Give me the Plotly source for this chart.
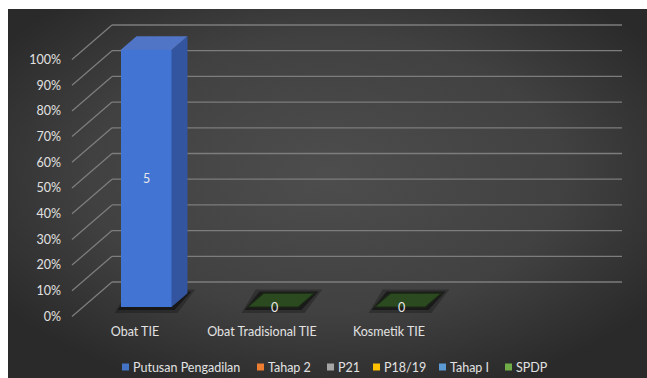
import base64
import plotly.graph_objects as go

# ---------------- data ----------------
categories = ["Obat TIE", "Obat Tradisional TIE", "Kosmetik TIE"]
series_names = ["Putusan Pengadilan", "Tahap 2", "P21", "P18/19", "Tahap I", "SPDP"]
putusan_pengadilan = [5, 0, 0]
tahap_2 = [0, 0, 0]
p21 = [0, 0, 0]
p18_19 = [0, 0, 0]
tahap_1 = [0, 0, 0]
spdp = [0, 0, 0]
series_values = [putusan_pengadilan, tahap_2, p21, p18_19, tahap_1, spdp]
y_ticks = [0, 10, 20, 30, 40, 50, 60, 70, 80, 90, 100]
y_tick_labels = ["0%", "10%", "20%", "30%", "40%", "50%", "60%", "70%", "80%", "90%", "100%"]

# ---------------- style ----------------
W, H = 647, 378
FONT = "Lato"
TXT = "#e2e2e2"
FS = 12.5
colors = ["#4274d4", "#ED7D31", "#A5A5A5", "#FFC000", "#5B9BD5", "#70AD47"]
top_colors = ["#5074c6", "#d8864a", "#b5b5b5", "#e8b830", "#72a4d6", "#2b4a1f"]
side_colors = ["#33559f", "#b5601f", "#858585", "#c49400", "#3f7ab0", "#24401a"]
legend_colors = ["#4472C4", "#ED7D31", "#A5A5A5", "#FFC000", "#5B9BD5", "#70AD47"]
legend_px = [122, 257, 327, 373, 439, 505]

PX_CAT = 127.0      # pixels per category
PX_PCT = 2.57       # pixels per percent
CAT0_PX = 135.0
ZERO_PY = 316.5
DOM_L, DOM_R, DOM_T, DOM_B = 62, 640, 15, 322

x_range = [(DOM_L - CAT0_PX) / PX_CAT, (DOM_R - CAT0_PX) / PX_CAT]
y_range = [(ZERO_PY - DOM_B) / PX_PCT, (ZERO_PY - DOM_T) / PX_PCT]

DX = 40 / PX_CAT     # full depth, x units
DY = 34.5 / PX_PCT   # full depth, y units
F_FRONT = 0.275      # bar front plane depth fraction
F_BAR = 0.40         # bar depth fraction
BW = 51 / PX_CAT     # bar width
GRID_X0 = (72 - CAT0_PX) / PX_CAT
GRID_X1 = (622 - CAT0_PX) / PX_CAT

fig = go.Figure()
shapes = []
annotations = []

# gridlines (floor diagonals + back wall)
for t in y_ticks:
    shapes.append(dict(type="line", xref="x", yref="y", x0=GRID_X0, y0=t,
                       x1=GRID_X0 + DX, y1=t + DY, line=dict(color="#7d7d7d", width=1.3), layer="below"))
    shapes.append(dict(type="line", xref="x", yref="y", x0=GRID_X0 + DX, y0=t + DY,
                       x1=GRID_X1, y1=t + DY, line=dict(color="#7d7d7d", width=1.3), layer="below"))

n = len(categories)
totals = [sum(s[i] for s in series_values) for i in range(n)]
pcts = [[(s[i] / totals[i] * 100 if totals[i] else 0) for i in range(n)] for s in series_values]
xc = [i + F_FRONT * DX for i in range(n)]
y_off = F_FRONT * DY
dxb, dyb = F_BAR * DX, F_BAR * DY


def path(pts):
    return "M " + " L ".join(f"{x},{y}" for x, y in pts) + " Z"


def footprint(i, t, e_px, alpha):
    e = e_px / PX_CAT
    ey = e_px / PX_PCT
    xl, xr = xc[i] - BW / 2 - e, xc[i] + BW / 2 + e
    return dict(type="path", xref="x", yref="y",
                path=path([(xl, t - ey), (xr, t - ey), (xr + dxb + e * 0.3, t + dyb + ey * 0.6),
                           (xl + dxb - e * 0.3, t + dyb + ey * 0.6)]),
                fillcolor=f"rgba(0,0,0,{alpha})", line=dict(width=0), layer="below")


# shadows under bars / flat zero bars
for i in range(n):
    shapes.append(footprint(i, y_off, 6, 0.25))
    shapes.append(footprint(i, y_off, 3, 0.45))

cum = [0.0] * n
for k, name in enumerate(series_names):
    bases = [cum[i] + y_off for i in range(n)]
    texts = [str(series_values[k][i]) if series_values[k][i] else "" for i in range(n)]
    fig.add_trace(go.Bar(x=xc, y=pcts[k], base=bases, width=BW, name=name,
                         marker=dict(color=colors[k], line=dict(width=0)),
                         text=texts, textposition="inside", insidetextanchor="middle",
                         textfont=dict(color="#e8e8e8", size=FS, family=FONT),
                         showlegend=False, hoverinfo="skip"))
    for i in range(n):
        h = pcts[k][i]
        if h > 0:
            b, t = bases[i], bases[i] + h
            xr = xc[i] + BW / 2
            shapes.append(dict(type="path", xref="x", yref="y",
                               path=path([(xr, b), (xr + dxb, b + dyb), (xr + dxb, t + dyb), (xr, t)]),
                               fillcolor=side_colors[k], line=dict(width=0), layer="above"))
        cum[i] += h

# top faces
for i in range(n):
    if totals[i] > 0:
        k = max(j for j in range(len(series_names)) if pcts[j][i] > 0)
        lc, lw = top_colors[k], 0
    else:
        k = len(series_names) - 1
        lc, lw = "#1b2816", 1.2
    t = cum[i] + y_off
    xl, xr = xc[i] - BW / 2, xc[i] + BW / 2
    shapes.append(dict(type="path", xref="x", yref="y",
                       path=path([(xl, t), (xr, t), (xr + dxb, t + dyb), (xl + dxb, t + dyb)]),
                       fillcolor=top_colors[k], line=dict(color=lc, width=lw), layer="above"))
    if totals[i] == 0:
        annotations.append(dict(x=xc[i] + 1.5 / PX_CAT, y=y_off, xref="x", yref="y", text=str(series_values[k][i]),
                                showarrow=False, font=dict(color="#e8e8e8", size=FS, family=FONT),
                                xanchor="center", yanchor="middle"))

# manual legend
LEG_Y = 367
for k, name in enumerate(series_names):
    x0 = legend_px[k]
    shapes.append(dict(type="rect", xref="paper", yref="paper",
                       x0=x0 / W, x1=(x0 + 7) / W, y0=1 - (LEG_Y + 3.5) / H, y1=1 - (LEG_Y - 3.5) / H,
                       fillcolor=legend_colors[k], line=dict(width=0)))
    annotations.append(dict(x=(x0 + 9) / W, y=1 - LEG_Y / H, xref="paper", yref="paper", text=name,
                            showarrow=False, xanchor="left", yanchor="middle",
                            font=dict(color=TXT, size=FS, family=FONT)))

svg = ("<svg xmlns='http://www.w3.org/2000/svg' width='639' height='369' viewBox='0 0 639 369' "
       "preserveAspectRatio='none'><defs><radialGradient id='g' cx='50%' cy='45%' r='62%'>"
       "<stop offset='0' stop-color='#4d4d4d'/><stop offset='0.6' stop-color='#414141'/>"
       "<stop offset='1' stop-color='#2a2a2a'/></radialGradient></defs>"
       "<rect width='639' height='369' fill='url(#g)'/></svg>")
src = "data:image/svg+xml;base64," + base64.b64encode(svg.encode()).decode()

fig.update_layout(
    width=W, height=H,
    margin=dict(l=0, r=0, t=0, b=0),
    paper_bgcolor="white", plot_bgcolor="rgba(0,0,0,0)",
    barmode="overlay", bargap=0,
    font=dict(family=FONT, color=TXT, size=FS),
    xaxis=dict(domain=[DOM_L / W, DOM_R / W], range=x_range, tickvals=list(range(n)), ticktext=categories,
               showgrid=False, zeroline=False, showline=False, ticks="", automargin=False,
               tickfont=dict(color=TXT, size=FS, family=FONT), fixedrange=True),
    yaxis=dict(domain=[1 - DOM_B / H, 1 - DOM_T / H], range=y_range, tickvals=y_ticks, ticktext=y_tick_labels,
               showgrid=False, zeroline=False, showline=False, ticks="", automargin=False,
               tickfont=dict(color=TXT, size=FS, family=FONT), fixedrange=True),
    shapes=shapes, annotations=annotations,
    images=[dict(source=src, xref="paper", yref="paper", x=8 / W, y=1 - 9 / H,
                 sizex=(W - 8) / W, sizey=(H - 9) / H, xanchor="left", yanchor="top",
                 sizing="stretch", layer="below")],
    showlegend=False,
)

fig.write_html("out.html")
